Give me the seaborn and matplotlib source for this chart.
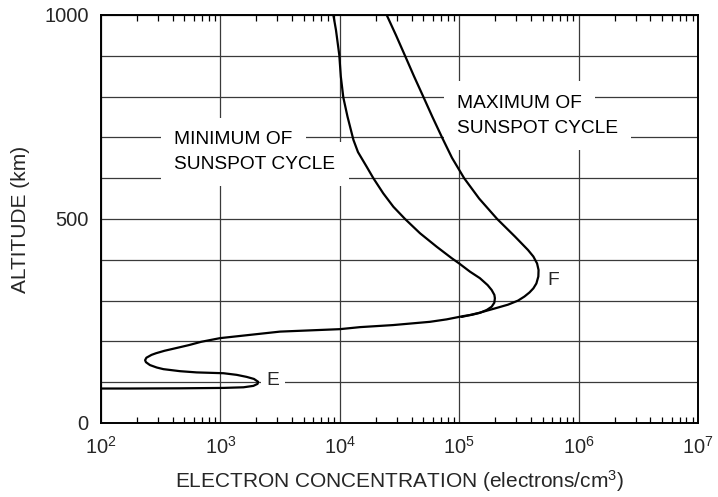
import matplotlib
matplotlib.use("Agg")
import matplotlib.pyplot as plt
from matplotlib.ticker import LogLocator, NullFormatter, FixedLocator
import numpy as np
import pandas as pd
import seaborn as sns

# Electron density profiles (electrons/cm^3 vs altitude in km), traced from the top down
min_density = [8.83e3, 9.29e3, 9.9e3, 1.02e4, 1.07e4, 1.16e4, 1.30e4, 1.42e4, 1.68e4,
               1.91e4, 2.31e4, 2.81e4, 3.52e4, 4.70e4, 6.48e4, 8.65e4, 1.00e5, 1.23e5,
               1.49e5, 1.73e5, 1.87e5, 1.97e5, 1.99e5, 1.97e5, 1.87e5, 1.70e5, 1.49e5,
               1.27e5, 1.08e5, 7.85e4, 5.69e4, 2.79e4, 1.48e4, 1.0e4, 3.16e3, 1.77e3,
               9.93e2, 6.9e2, 5.46e2, 4.17e2, 3.40e2, 2.89e2, 2.65e2, 2.40e2, 2.34e2, 2.38e2,
               2.57e2, 2.93e2, 3.33e2, 4.59e2, 6.32e2, 1.06e3, 1.37e3, 1.66e3, 1.91e3,
               2.07e3, 2.05e3, 1.89e3, 1.56e3, 1.06e3, 4.59e2, 1.75e2, 8.5e1]
min_altitude = [1000, 963, 902, 849, 798, 751, 694, 664, 628,
                600, 563, 530, 500, 465, 432, 404, 391, 371,
                355, 338, 326, 314, 306, 295, 285, 277, 270,
                265, 262, 254, 248, 240, 235, 230, 224, 216,
                208, 199, 191, 183, 177, 171, 167, 160, 154, 149,
                142, 136, 132, 127, 124, 122, 118, 113, 108,
                101, 96, 91, 87.5, 86, 85, 84.5, 84.5]

max_density = [2.47e4, 2.96e4, 3.52e4, 4.18e4, 5.0e4, 5.97e4, 7.18e4, 8.7e4, 1.10e5,
               1.47e5, 2.08e5, 2.93e5, 3.77e5, 4.18e5, 4.49e5, 4.62e5, 4.6e5,
               4.43e5, 4.18e5, 3.88e5, 3.52e5, 3.11e5, 2.56e5, 2.0e5, 1.47e5, 1.05e5]
max_altitude = [1000, 950, 900, 850, 800, 750, 700, 650, 600,
                550, 500, 457, 424, 408, 391, 375, 359,
                342, 330, 320, 310, 300, 290, 281, 270, 260]

profiles = pd.concat([
    pd.DataFrame({"density": min_density, "altitude": min_altitude, "cycle": "minimum"}),
    pd.DataFrame({"density": max_density, "altitude": max_altitude, "cycle": "maximum"}),
], ignore_index=True)

sns.set_style("white")
plt.rcParams["font.family"] = ["Liberation Sans", "DejaVu Sans"]
plt.rcParams["mathtext.fontset"] = "custom"
plt.rcParams["mathtext.rm"] = "Liberation Sans"
plt.rcParams["mathtext.it"] = "Liberation Sans:italic"
plt.rcParams["mathtext.bf"] = "Liberation Sans:bold"

fig = plt.figure(figsize=(7.18, 4.97), dpi=100)
ax = fig.add_axes([101 / 718, 1 - 423 / 497, (698 - 101) / 718, (423 - 15) / 497])

sns.lineplot(data=profiles, x="density", y="altitude", hue="cycle", units="cycle",
             palette=["black", "black"], sort=False, estimator=None, legend=False,
             linewidth=1.6, ax=ax, zorder=5)

ax.set_xscale("log")
ax.set_xlim(1e2, 1e7)
ax.set_ylim(0, 1000)

ax.xaxis.set_major_locator(LogLocator(base=10, numticks=10))
ax.xaxis.set_minor_locator(LogLocator(base=10, subs=np.arange(2, 10), numticks=20))
ax.xaxis.set_minor_formatter(NullFormatter())
ax.set_yticks([0, 500, 1000])
ax.yaxis.set_minor_locator(FixedLocator(np.arange(100, 1000, 100)))

ax.grid(which="major", axis="x", color="#3a3a3a", linewidth=0.9)
ax.grid(which="both", axis="y", color="#3a3a3a", linewidth=0.9)
ax.set_axisbelow(True)

ax.tick_params(axis="x", which="major", length=0, pad=9, labelsize=14.5)
ax.tick_params(axis="x", which="minor", direction="in", length=4, width=0.9,
               top=True, bottom=True, color="black")
ax.tick_params(axis="y", which="both", length=0, pad=9, labelsize=14.5)

for side in ax.spines.values():
    side.set_visible(True)
    side.set_color("black")
    side.set_linewidth(1.4)

ax.set_xlabel("ELECTRON CONCENTRATION (electrons/cm$^{3}$)", fontsize=15, labelpad=8)
ax.set_ylabel("ALTITUDE (km)", fontsize=15, labelpad=10)

# Each label line sits on a white patch that interrupts the grid behind it;
# patches go underneath all lines of text so neighbouring lines stay visible.
box = dict(boxstyle="square,pad=0.7", facecolor="white", edgecolor="none")
curve_labels = [
    (4.1e2, 694, "MINIMUM OF"),
    (4.1e2, 634, "SUNSPOT CYCLE"),
    (9.6e4, 784, "MAXIMUM OF"),
    (9.6e4, 723, "SUNSPOT CYCLE"),
]
for x, y, s in curve_labels:
    ax.text(x, y, s, fontsize=13.8, ha="left", va="center", color="none",
            zorder=2.6, bbox=box)
for x, y, s in curve_labels:
    ax.text(x, y, s, fontsize=13.8, ha="left", va="center", color="black", zorder=3)

small_box = dict(boxstyle="square,pad=0.3", facecolor="white", edgecolor="none")
ax.text(2.45e3, 104, "E", fontsize=13.8, ha="left", va="center", zorder=3, bbox=small_box)
ax.text(5.5e5, 349, "F", fontsize=13.8, ha="left", va="center", zorder=3, bbox=small_box)

fig.savefig("out.png", dpi=100)
